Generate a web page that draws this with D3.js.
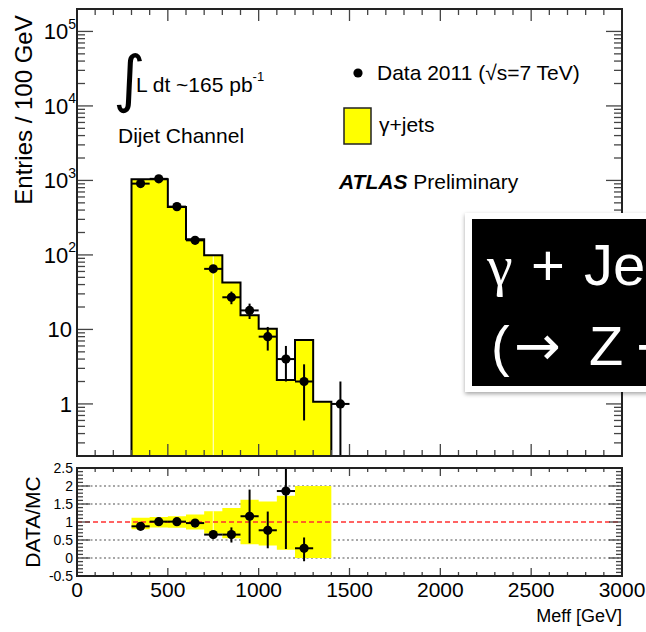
<!DOCTYPE html>
<html><head><meta charset="utf-8">
<script src="https://cdn.jsdelivr.net/npm/d3@7"></script>
<style>
body{margin:0;background:#fff}
svg{display:block}
text{font-family:"Liberation Sans",Arial,Helvetica,sans-serif;fill:#000}
</style>
</head><body>
<svg id="c" width="646" height="632"></svg>
<script>
// ---------------- data ----------------
const mcEdges  = [300,400,500,600,700,800,900,1000,1100,1200,1300,1400];
const mcValues = [1040,1040,441,162,99,42.5,15.5,10.2,2.1,7.2,1.07];
const dataX    = [350,450,550,650,750,850,950,1050,1150,1250,1450];
const dataY    = [906,1050,445,157,65,27,18,8,4,2,1];
const dataErr  = [30,32,21,12.6,8,5.2,4.2,2.8,2,1.4,1];
const ratioX     = [350,450,550,650,750,850,950,1050,1150,1250];
const ratioY     = [0.88,1.01,1.01,0.97,0.65,0.65,1.16,0.77,1.86,0.27];
const ratioErrUp = [0.03,0.03,0.05,0.08,0.08,0.2,0.74,0.52,1.0,0.3];
const ratioErrDn = [0.03,0.03,0.05,0.08,0.08,0.22,0.75,0.5,1.61,0.36];
const bandHi = [1.12,1.14,1.16,1.21,1.30,1.39,1.62,1.57,1.73,2.0,2.0];
const bandLo = [0.80,0.85,0.84,0.79,0.68,0.55,0.38,0.35,0.23,0.0,0.0];
const xTickValues = [0,500,1000,1500,2000,2500,3000];
const xTickLabels = ["0","500","1000","1500","2000","2500","3000"];
const yMainTicks  = [1,10,100,1000,10000,100000];
const yMainBase   = ["1","10","10","10","10","10"];
const yMainExp    = ["","","2","3","4","5"];
const ratioTicks  = [-0.5,0,0.5,1,1.5,2,2.5];
const ratioLabels = ["-0.5","0","0.5","1","1.5","2","2.5"];
const ratioGrid   = [0,0.5,1.5,2];

// ---------------- layout ----------------
const svg = d3.select("#c");
const L = 77, R = 622;
const mainTop = 9, mainBot = 456;
const ratTop = 468, ratBot = 576;
const binW = 100;

const x = d3.scaleLinear().domain([0,3000]).range([L,R]);
const y = d3.scaleLog().domain([0.2,2e5]).range([mainBot,mainTop]);
const yr = d3.scaleLinear().domain([-0.5,2.5]).range([ratBot,ratTop]);

const defs = svg.append("defs");
defs.append("clipPath").attr("id","clipMain").append("rect")
  .attr("x",L).attr("y",mainTop).attr("width",R-L).attr("height",mainBot-mainTop);
defs.append("clipPath").attr("id","clipRat").append("rect")
  .attr("x",L).attr("y",ratTop).attr("width",R-L).attr("height",ratBot-ratTop);
const sh = defs.append("filter").attr("id","shadow").attr("x","-10%").attr("y","-10%").attr("width","130%").attr("height","130%");
sh.append("feDropShadow").attr("dx",0).attr("dy",2).attr("stdDeviation",2).attr("flood-color","#000").attr("flood-opacity",0.35);

// ---------------- main panel ----------------
const gm = svg.append("g").attr("clip-path","url(#clipMain)");
const stepPts = mcEdges.map((e,i)=>[e, i<mcValues.length ? mcValues[i] : mcValues[mcValues.length-1]]);
const yMin = y.domain()[0];
gm.append("path")
  .attr("d", d3.area().x(d=>x(d[0])).y0(y(yMin)).y1(d=>y(d[1])).curve(d3.curveStepAfter)(stepPts))
  .attr("fill","#ffff00");
// faint rendering seam at 750
gm.append("line").attr("x1",x(dataX[4])).attr("x2",x(dataX[4]))
  .attr("y1",y(mcValues[4])).attr("y2",y(yMin))
  .attr("stroke","#ffffe8").attr("stroke-width",1);
const outline = [[mcEdges[0],yMin]].concat(stepPts).concat([[mcEdges[mcEdges.length-1],yMin]]);
gm.append("path")
  .attr("d", d3.line().x(d=>x(d[0])).y(d=>y(d[1])).curve(d3.curveStepAfter)(outline))
  .attr("fill","none").attr("stroke","#000").attr("stroke-width",2);

// data points
dataX.forEach((cx,i)=>{
  const v = dataY[i], e = dataErr[i];
  gm.append("line").attr("x1",x(cx-binW/2)).attr("x2",x(cx+binW/2))
    .attr("y1",y(v)).attr("y2",y(v)).attr("stroke","#000").attr("stroke-width",2);
  gm.append("line").attr("x1",x(cx)).attr("x2",x(cx))
    .attr("y1",y(v+e)).attr("y2",y(Math.max(v-e,yMin)))
    .attr("stroke","#000").attr("stroke-width",2);
  gm.append("circle").attr("cx",x(cx)).attr("cy",y(v)).attr("r",4.6).attr("fill","#000");
});

// ---------------- ratio panel ----------------
const gr = svg.append("g").attr("clip-path","url(#clipRat)");
ratioGrid.forEach(v=>{
  gr.append("line").attr("x1",L).attr("x2",R).attr("y1",yr(v)).attr("y2",yr(v))
    .attr("stroke","#8a8a8a").attr("stroke-width",1.4).attr("stroke-dasharray","2,2.5");
});
const bandPts = mcEdges.map((e,i)=>({x:e, hi: bandHi[Math.min(i,bandHi.length-1)], lo: bandLo[Math.min(i,bandLo.length-1)]}));
gr.append("path")
  .attr("d", d3.area().x(d=>x(d.x)).y0(d=>yr(d.lo)).y1(d=>yr(d.hi)).curve(d3.curveStepAfter)(bandPts))
  .attr("fill","#ffff00");
gr.append("line").attr("x1",x(dataX[4])).attr("x2",x(dataX[4]))
  .attr("y1",yr(bandHi[4])).attr("y2",yr(bandLo[4]))
  .attr("stroke","#ffffe8").attr("stroke-width",1);
gr.append("line").attr("x1",L).attr("x2",R).attr("y1",yr(1)).attr("y2",yr(1))
  .attr("stroke","#ff3030").attr("stroke-width",1.4).attr("stroke-dasharray","5,3");
ratioX.forEach((cx,i)=>{
  const v = ratioY[i];
  gr.append("line").attr("x1",x(cx-binW/2)).attr("x2",x(cx+binW/2))
    .attr("y1",yr(v)).attr("y2",yr(v)).attr("stroke","#000").attr("stroke-width",2);
  gr.append("line").attr("x1",x(cx)).attr("x2",x(cx))
    .attr("y1",yr(v+ratioErrUp[i])).attr("y2",yr(v-ratioErrDn[i]))
    .attr("stroke","#000").attr("stroke-width",2);
  gr.append("circle").attr("cx",x(cx)).attr("cy",yr(v)).attr("r",4.6).attr("fill","#000");
});

// ---------------- axes / ticks ----------------
const tickCol = "#444";
function ticks(g, vals, size, orient, pos) {
  vals.forEach(v=>{
    const l = g.append("line").attr("stroke",tickCol).attr("stroke-width",1.3);
    if (orient==="bottom") l.attr("x1",x(v)).attr("x2",x(v)).attr("y1",pos).attr("y2",pos-size);
    if (orient==="top")    l.attr("x1",x(v)).attr("x2",x(v)).attr("y1",pos).attr("y2",pos+size);
    if (orient==="left")   l.attr("y1",v).attr("y2",v).attr("x1",pos).attr("x2",pos+size);
    if (orient==="right")  l.attr("y1",v).attr("y2",v).attr("x1",pos).attr("x2",pos-size);
  });
}
const xMinor = d3.range(0,3001,100).filter(v=>v%500!==0);
const ga = svg.append("g");
ticks(ga, xMinor, 6, "bottom", mainBot);
ticks(ga, xTickValues, 12, "bottom", mainBot);
ticks(ga, xMinor, 6, "top", mainTop);
ticks(ga, xTickValues, 12, "top", mainTop);
const yMajPix = yMainTicks.map(v=>y(v));
const yMinPix = [];
for (let p=-1; p<=5; p++) for (let k=2;k<=9;k++){ const v=k*Math.pow(10,p); if (v>=0.2 && v<=2e5) yMinPix.push(y(v)); }
ticks(ga, yMajPix, 16, "left", L);
ticks(ga, yMinPix, 8, "left", L);
ticks(ga, yMajPix, 16, "right", R);
ticks(ga, yMinPix, 8, "right", R);
ticks(ga, xMinor, 4, "bottom", ratBot);
ticks(ga, xTickValues, 8, "bottom", ratBot);
ticks(ga, xMinor, 4, "top", ratTop);
ticks(ga, xTickValues, 8, "top", ratTop);
const rMaj = ratioTicks.map(v=>yr(v));
const rMin = d3.range(-5,26,1).filter(k=>k%5!==0).map(k=>yr(k/10));
ticks(ga, rMaj, 13, "left", L);
ticks(ga, rMin, 6, "left", L);
ticks(ga, rMaj, 13, "right", R);
ticks(ga, rMin, 6, "right", R);

// frames
svg.append("rect").attr("x",L).attr("y",mainTop).attr("width",R-L).attr("height",mainBot-mainTop)
  .attr("fill","none").attr("stroke","#222").attr("stroke-width",2);
svg.append("rect").attr("x",L).attr("y",ratTop).attr("width",R-L).attr("height",ratBot-ratTop)
  .attr("fill","none").attr("stroke","#222").attr("stroke-width",2);

// main y labels
yMainTicks.forEach((v,i)=>{
  const t = svg.append("text").attr("y",y(v)).attr("dy","0.36em").attr("font-size",22).attr("text-anchor","end");
  if (yMainExp[i]) {
    t.attr("x",76);
    t.append("tspan").text(yMainBase[i]);
    t.append("tspan").attr("font-size",14).attr("dy","-0.75em").text(yMainExp[i]);
  } else {
    t.attr("x",72).text(yMainBase[i]);
  }
});
ratioTicks.forEach((v,i)=>{
  svg.append("text").attr("x",73).attr("y",yr(v)).attr("dy","0.36em")
    .attr("font-size",14).attr("text-anchor","end").text(ratioLabels[i]);
});
xTickValues.forEach((v,i)=>{
  svg.append("text").attr("x",x(v)).attr("y",597).attr("font-size",21)
    .attr("text-anchor","middle").text(xTickLabels[i]);
});
svg.append("text").attr("x",R).attr("y",622).attr("font-size",18).attr("text-anchor","end").text("Meff [GeV]");
svg.append("text").attr("transform",`translate(32,${(mainTop+203)/2+4}) rotate(-90)`)
  .attr("font-size",24).attr("text-anchor","middle").text("Entries / 100 GeV");
svg.append("text").attr("transform",`translate(40,${(ratTop+ratBot)/2}) rotate(-90)`)
  .attr("font-size",21).attr("text-anchor","middle").text("DATA/MC");

// ---------------- legend / labels ----------------
svg.append("text").attr("x",113).attr("y",100).attr("font-size",62)
  .style("font-family","'DejaVu Sans'").text("∫");
const lum = svg.append("text").attr("x",136).attr("y",92).attr("font-size",21);
lum.append("tspan").text("L dt ~165 pb");
lum.append("tspan").attr("font-size",13).attr("dy","-0.85em").text("-1");
svg.append("text").attr("x",118).attr("y",143).attr("font-size",21).text("Dijet Channel");

svg.append("circle").attr("cx",358).attr("cy",73).attr("r",4.6).attr("fill","#000");
svg.append("text").attr("x",377).attr("y",80).attr("font-size",21).text("Data 2011 (√s=7 TeV)");
svg.append("rect").attr("x",344).attr("y",108).attr("width",27).attr("height",36)
  .attr("fill","#ffff00").attr("stroke","#222").attr("stroke-width",1.5);
svg.append("text").attr("x",379).attr("y",132).attr("font-size",21).text("γ+jets");
const atl = svg.append("text").attr("x",339).attr("y",189).attr("font-size",21);
atl.append("tspan").attr("font-weight","bold").attr("font-style","italic").text("ATLAS");
atl.append("tspan").text(" Preliminary");

// ---------------- overlay box ----------------
svg.append("rect").attr("x",465).attr("y",213).attr("width",220).attr("height",179)
  .attr("fill","#fff").attr("filter","url(#shadow)");
svg.append("rect").attr("x",472).attr("y",219).attr("width",220).attr("height",167).attr("fill","#000");
const b1 = svg.append("text").attr("y",285).attr("font-size",58).style("fill","#fff");
b1.append("tspan").attr("x",487).style("font-family","'Liberation Serif',serif").style("fill","#fff").text("γ");
b1.append("tspan").attr("x",531).style("fill","#fff").text("+");
b1.append("tspan").attr("x",584).style("fill","#fff").text("Jets");
const b2 = svg.append("text").attr("y",365).attr("font-size",56).style("fill","#fff");
b2.append("tspan").attr("x",491).style("fill","#fff").text("(");
b2.append("tspan").attr("x",514).style("font-family","'DejaVu Sans'").style("fill","#fff").text("→");
b2.append("tspan").attr("x",589).style("fill","#fff").text("Z");
b2.append("tspan").attr("x",636).style("font-family","'DejaVu Sans'").style("fill","#fff").text("→νν)");
</script>
</body></html>
